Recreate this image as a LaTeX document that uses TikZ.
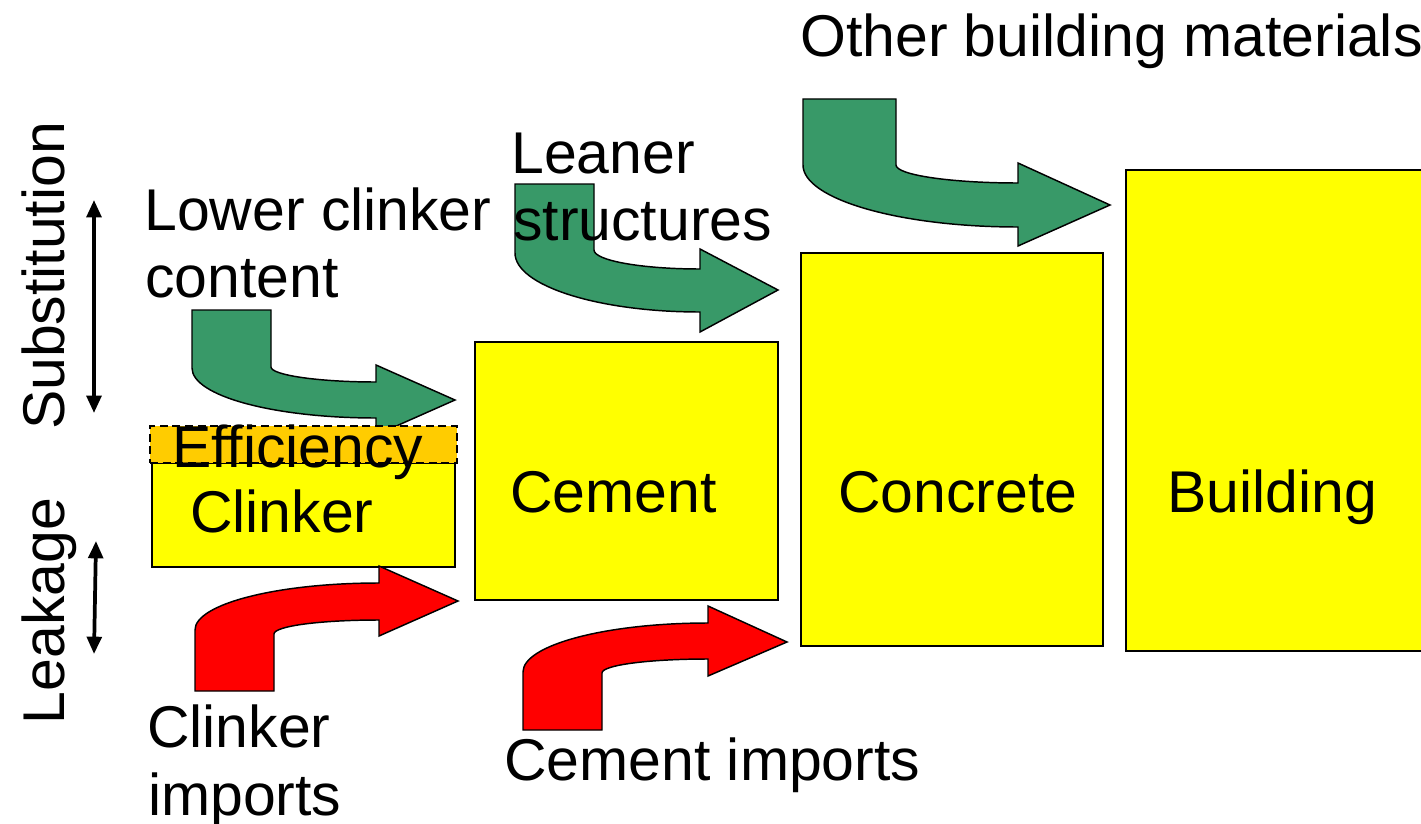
\documentclass[tikz,border=0pt]{standalone}
\usepackage{fontspec}
\setmainfont{Liberation Sans}
\usetikzlibrary{arrows.meta}
\definecolor{flowgreen}{RGB}{56,153,104}
\definecolor{boxyellow}{RGB}{255,255,0}
\definecolor{bandorange}{RGB}{255,204,0}
\definecolor{importred}{RGB}{255,0,0}
\begin{document}
\begin{tikzpicture}[x=0.75pt,y=0.75pt,
  stage/.style={draw=black, line width=1.5pt, fill=boxyellow, inner sep=0pt},
  band/.style={draw=black, line width=1.2pt, dash pattern=on 6pt off 3.5pt, fill=bandorange, inner sep=0pt},
  lbl/.style={inner sep=0pt, font=\fontsize{44.2pt}{50pt}\selectfont},
  saving/.style={draw=black, line width=1.1pt, fill=flowgreen, line join=miter},
  leak/.style={draw=black, line width=1.1pt, fill=importred, line join=miter},
  bidir/.style={line width=2.8pt, {Triangle[length=13pt,width=11pt]}-{Triangle[length=13pt,width=11pt]}}]
\useasboundingbox (0,0) rectangle (1421,-824);

% production stages
\node[stage, minimum width=227.25pt, minimum height=78pt] (clinker) at (303.5,-515) {};
\node[stage, minimum width=227.25pt, minimum height=193.5pt] (cement) at (626.5,-471) {};
\node[stage, minimum width=226.5pt, minimum height=294.75pt] (concrete) at (952,-449.5) {};
\node[stage, minimum width=243pt, minimum height=360.75pt] (building) at (1288,-410.5) {};

% substitution flows (green bent arrows)
\path[saving] (192,-310) -- (271,-310) -- (271,-367)
  .. controls (271,-375) and (318,-382) .. (376,-382) -- (376,-365) -- (455,-400)
  -- (376,-435) -- (376,-418) .. controls (274,-418) and (192,-396) .. (192,-368) -- cycle;
\path[saving] (515,-184) -- (594,-184) -- (594,-250)
  .. controls (594,-260.5) and (641.5,-269) .. (700,-269) -- (700,-249) -- (778,-290)
  -- (700,-332) -- (700,-312) .. controls (598,-312) and (515,-285.6) .. (515,-253) -- cycle;
\path[saving] (803,-99) -- (896,-99) -- (896,-165)
  .. controls (896,-175) and (951,-183) .. (1018,-183) -- (1018,-163) -- (1110,-205)
  -- (1018,-246) -- (1018,-227) .. controls (899,-227) and (803,-199) .. (803,-165) -- cycle;

% efficiency layer on top of the clinker stage
\node[band, minimum width=230.25pt, minimum height=27.75pt] (efficiency) at (303.5,-444.5) {};

% import flows (red bent arrows)
\path[leak] (195,-691) -- (195,-630)
  .. controls (195,-604) and (277,-583) .. (379,-583) -- (379,-566) -- (458,-601)
  -- (379,-636) -- (379,-620) .. controls (321,-620) and (274,-626) .. (274,-634)
  -- (274,-691) -- cycle;
\path[leak] (523,-730) -- (523,-672)
  .. controls (523,-645) and (606,-623) .. (708,-623) -- (708,-606) -- (787,-642)
  -- (708,-676) -- (708,-659) .. controls (649.5,-659) and (602,-665) .. (602,-673)
  -- (602,-730) -- cycle;

% labels
\node[lbl, anchor=base west] (tother) at (800,-57) {Other building materials};
\node[lbl, anchor=base west] (tlowerA) at (144,-230) {Lower clinker};
\node[lbl, anchor=base west] (tlowerB) at (145,-297) {content};
\node[lbl, anchor=base west] (tleanA) at (511,-173) {Leaner};
\node[lbl, anchor=base west] (tleanB) at (513,-240) {structures};
\node[lbl, anchor=base west] (teff) at (172,-467) {Efficiency};
\node[lbl, anchor=base west] (tclinker) at (190,-532) {Clinker};
\node[lbl, anchor=base west] (tcement) at (510,-512) {Cement};
\node[lbl, anchor=base west] (tconcrete) at (838,-512) {Concrete};
\node[lbl, anchor=base west] (tbuilding) at (1167,-512) {Building};
\node[lbl, anchor=base west] (timpA) at (147,-747) {Clinker};
\node[lbl, anchor=base west] (timpB) at (148,-815) {imports};
\node[lbl, anchor=base west] (tcemimp) at (504,-780) {Cement imports};
\node[lbl, rotate=90, anchor=base] (tsubst) at (64,-276) {Substitution};
\node[lbl, rotate=90, anchor=base] (tleak) at (64,-611) {Leakage};

% range markers
\coordinate (subtop) at (94,-200);
\coordinate (subbot) at (94,-413);
\coordinate (leaktop) at (96,-541);
\coordinate (leakbot) at (94,-654);
\draw[bidir] (subtop) -- (subbot);
\draw[bidir] (leaktop) -- (leakbot);
\end{tikzpicture}
\end{document}
